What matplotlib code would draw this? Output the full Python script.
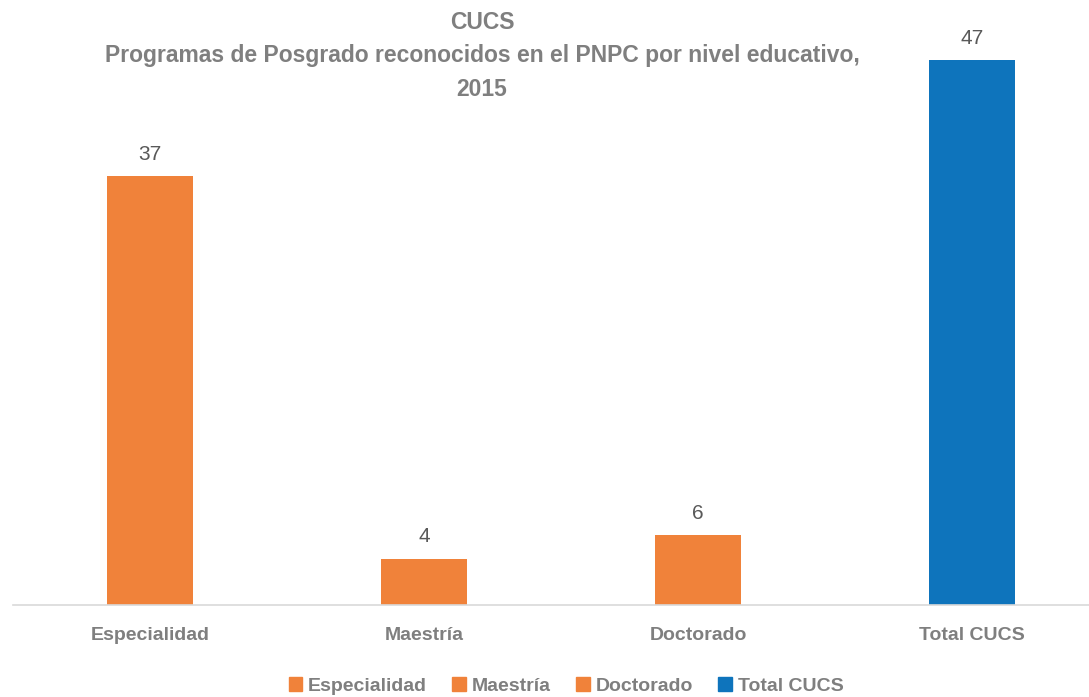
import matplotlib.pyplot as plt
from matplotlib.patches import Patch

plt.rcParams['font.family'] = ['Liberation Sans Narrow', 'Liberation Sans', 'DejaVu Sans']

# data
categories = ['Especialidad', 'Maestría', 'Doctorado', 'Total CUCS']
values = [37, 4, 6, 47]
colors = ['#F0823A', '#F0823A', '#F0823A', '#0E74BC']

title = 'CUCS\nProgramas de Posgrado reconocidos en el PNPC por nivel educativo,\n2015'
gray = '#7F7F7F'

fig = plt.figure(figsize=(10.89, 6.97), dpi=100)
# axes extends slightly past the right edge, like the original
ax = fig.add_axes([13 / 1089, 92 / 697, 1096 / 1089, 580 / 697])

x = range(len(categories))
bars = ax.bar(x, values, width=0.314, color=colors, zorder=2)
for b, v in zip(bars, values):
    ax.text(b.get_x() + b.get_width() / 2, v + 1.05, str(v), ha='center', va='bottom',
            fontsize=15, color='#595959')

ax.set_xlim(-0.5, 3.5)
ax.set_ylim(0, 50)
ax.set_xticks(list(x))
ax.set_xticklabels(categories, fontsize=14, fontweight='bold', color=gray)
ax.tick_params(axis='x', length=0, pad=16)
ax.set_yticks([])
for s in ['top', 'right', 'left']:
    ax.spines[s].set_visible(False)
ax.spines['bottom'].set_color('#D9D9D9')
ax.spines['bottom'].set_linewidth(1.2)

fig.text(482 / 1089, 1 - 11 / 697, title, ha='center', va='top', fontsize=16.5,
         fontweight='bold', color=gray, linespacing=1.58)

handles = [Patch(color=c) for c in colors]
fig.legend(handles, categories, loc='center', bbox_to_anchor=(566 / 1089, 1 - 686 / 697),
           ncol=4, frameon=False, handlelength=0.7, handleheight=0.7, handletextpad=0.3,
           columnspacing=1.3, prop={'size': 14, 'weight': 'bold'}, labelcolor=gray)

fig.savefig('out.png', dpi=100)
